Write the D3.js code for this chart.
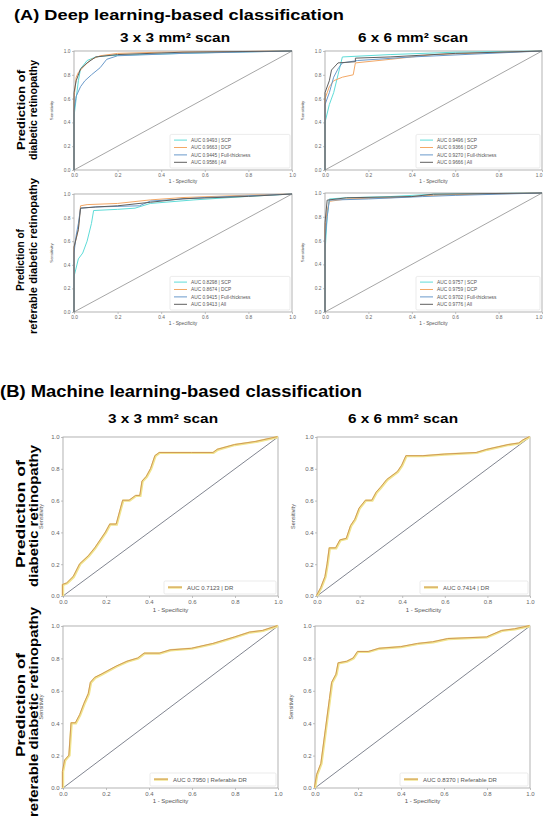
<!DOCTYPE html>
<html>
<head>
<meta charset="utf-8">
<script src="https://cdn.jsdelivr.net/npm/d3@7"></script>
<style>
  body { margin: 0; background: #fff; }
  svg { display: block; font-family: 'Liberation Sans', Arial, sans-serif; }
  .tick text { fill: #666; }
  .narrow { font-family: 'Liberation Sans Narrow', 'Liberation Sans', Arial, sans-serif; font-weight: bold; }
</style>
</head>
<body>
<script>
// ---- data ----
var ticks = [0, 0.2, 0.4, 0.6, 0.8, 1.0]
var dlLayers = ['SCP', 'DCP', 'Full-thickness', 'All']

// deep learning AUCs, order matches dlLayers
var auc33DR  = [0.9493, 0.9663, 0.9445, 0.9586]
var auc66DR  = [0.9496, 0.9366, 0.9270, 0.9666]
var auc33RDR = [0.8298, 0.8674, 0.9415, 0.9413]
var auc66RDR = [0.9757, 0.9759, 0.9702, 0.9776]

// ROC points [1 - specificity, sensitivity]
var roc33DR_SCP  = [[0,0],[0,0.45],[0.01,0.6],[0.02,0.75],[0.03,0.85],[0.06,0.92],[0.1,0.95],[0.15,0.96],[0.3,0.97],[0.5,0.98],[0.7,0.99],[1,1]]
var roc33DR_DCP  = [[0,0],[0,0.6],[0.01,0.78],[0.02,0.82],[0.05,0.88],[0.08,0.93],[0.12,0.96],[0.2,0.98],[0.4,0.99],[1,1]]
var roc33DR_Full = [[0,0],[0,0.5],[0.01,0.62],[0.03,0.7],[0.05,0.75],[0.08,0.8],[0.12,0.86],[0.15,0.93],[0.2,0.96],[0.5,0.98],[1,1]]
var roc33DR_All  = [[0,0],[0,0.65],[0.01,0.75],[0.03,0.85],[0.06,0.9],[0.1,0.95],[0.2,0.97],[0.5,0.99],[1,1]]

var roc66DR_SCP  = [[0,0],[0,0.4],[0.02,0.55],[0.04,0.65],[0.06,0.8],[0.08,0.95],[0.3,0.97],[0.6,0.99],[1,1]]
var roc66DR_DCP  = [[0,0],[0,0.6],[0.02,0.7],[0.04,0.75],[0.08,0.78],[0.13,0.8],[0.14,0.9],[0.3,0.93],[0.5,0.97],[1,1]]
var roc66DR_Full = [[0,0],[0,0.55],[0.02,0.65],[0.04,0.78],[0.06,0.85],[0.08,0.9],[0.15,0.92],[0.4,0.95],[1,1]]
var roc66DR_All  = [[0,0],[0,0.65],[0.02,0.75],[0.03,0.84],[0.06,0.9],[0.14,0.91],[0.14,0.94],[0.3,0.95],[0.6,0.98],[1,1]]

var roc33RDR_SCP  = [[0,0],[0,0.3],[0.02,0.45],[0.04,0.5],[0.06,0.6],[0.08,0.75],[0.09,0.86],[0.2,0.87],[0.28,0.88],[0.35,0.92],[0.55,0.95],[0.8,0.98],[1,1]]
var roc33RDR_DCP  = [[0,0],[0,0.55],[0.01,0.62],[0.02,0.7],[0.03,0.9],[0.06,0.91],[0.2,0.92],[0.35,0.95],[0.5,0.97],[0.8,0.99],[1,1]]
var roc33RDR_Full = [[0,0],[0,0.5],[0.01,0.65],[0.02,0.75],[0.03,0.88],[0.1,0.89],[0.3,0.9],[0.35,0.94],[0.6,0.97],[1,1]]
var roc33RDR_All  = [[0,0],[0,0.55],[0.02,0.7],[0.03,0.88],[0.1,0.89],[0.2,0.9],[0.35,0.93],[0.5,0.96],[0.8,0.98],[1,1]]

var roc66RDR_SCP  = [[0,0],[0,0.5],[0.01,0.8],[0.02,0.95],[0.1,0.96],[0.3,0.97],[0.5,0.99],[1,1]]
var roc66RDR_DCP  = [[0,0],[0,0.7],[0.01,0.85],[0.02,0.93],[0.1,0.95],[0.3,0.96],[0.5,0.98],[0.7,0.99],[1,1]]
var roc66RDR_Full = [[0,0],[0,0.6],[0.01,0.8],[0.02,0.94],[0.2,0.95],[0.45,0.97],[0.6,0.98],[1,1]]
var roc66RDR_All  = [[0,0],[0,0.75],[0.01,0.94],[0.1,0.96],[0.4,0.97],[0.5,0.99],[1,1]]

// machine learning
var mlLabels = ['DR', 'DR', 'Referable DR', 'Referable DR']
var mlAuc = [0.7123, 0.7414, 0.7950, 0.8370]
var ml33DR  = [[0,0],[0,0.07],[0.02,0.08],[0.05,0.12],[0.08,0.2],[0.12,0.25],[0.15,0.3],[0.2,0.4],[0.22,0.45],[0.25,0.45],[0.27,0.55],[0.28,0.6],[0.31,0.6],[0.34,0.63],[0.36,0.63],[0.37,0.72],[0.39,0.75],[0.41,0.8],[0.43,0.88],[0.45,0.9],[0.6,0.9],[0.7,0.9],[0.72,0.92],[0.8,0.95],[0.9,0.97],[1,1]]
var ml66DR  = [[0,0],[0.02,0.05],[0.04,0.12],[0.05,0.2],[0.06,0.3],[0.09,0.3],[0.11,0.35],[0.14,0.36],[0.16,0.44],[0.18,0.48],[0.2,0.55],[0.23,0.6],[0.26,0.6],[0.28,0.65],[0.3,0.68],[0.33,0.73],[0.38,0.78],[0.4,0.82],[0.42,0.88],[0.5,0.88],[0.6,0.89],[0.75,0.9],[0.8,0.92],[0.9,0.95],[0.95,0.96],[0.97,0.98],[1,1]]
var ml33RDR = [[0,0],[0,0.1],[0.01,0.17],[0.03,0.2],[0.04,0.4],[0.06,0.4],[0.08,0.45],[0.1,0.52],[0.12,0.58],[0.13,0.65],[0.15,0.68],[0.18,0.7],[0.25,0.75],[0.3,0.78],[0.35,0.8],[0.38,0.83],[0.45,0.83],[0.5,0.85],[0.6,0.86],[0.7,0.89],[0.8,0.93],[0.87,0.96],[0.93,0.97],[1,1]]
var ml66RDR = [[0,0],[0.01,0.08],[0.03,0.15],[0.05,0.35],[0.07,0.55],[0.08,0.65],[0.1,0.7],[0.11,0.77],[0.15,0.78],[0.18,0.8],[0.2,0.84],[0.25,0.84],[0.3,0.86],[0.4,0.87],[0.48,0.89],[0.55,0.9],[0.62,0.92],[0.8,0.93],[0.87,0.97],[0.93,0.98],[1,1]]

var dlColors = ['#5fdcd8', '#f3a866', '#6a9acb', '#5f5f5f']

// ---- drawing ----
var svg = d3.select('body').append('svg').attr('width', 543).attr('height', 817)

function addText(str, x, y, size, len, opts){
  opts = opts || {}
  var t = svg.append('text')
    .attr('transform', 'translate(' + x + ',' + y + ')' + (opts.rotate ? ' rotate(-90)' : ''))
    .attr('text-anchor', opts.anchor || 'middle')
    .style('font-size', size + 'px')
    .style('font-weight', 'bold')
    .text(str)
  if (opts.narrow) t.attr('class', 'narrow')
  if (len) t.attr('textLength', len).attr('lengthAdjust', 'spacingAndGlyphs')
  return t
}

function drawRoc(p){
  var x = d3.scaleLinear().domain([0, 1]).range([p.x0, p.x1])
  var y = d3.scaleLinear().domain([0, 1]).range([p.y1, p.y0])
  var g = svg.append('g')
  var fs = p.fs

  var xAxis = g.append('g').attr('transform', 'translate(0,' + p.y1 + ')')
    .call(d3.axisBottom(x).tickValues(ticks).tickFormat(d3.format('.1f')).tickSize(2).tickPadding(1.5))
  var yAxis = g.append('g').attr('transform', 'translate(' + p.x0 + ',0)')
    .call(d3.axisLeft(y).tickValues(ticks).tickFormat(d3.format('.1f')).tickSize(2).tickPadding(1.5))
  g.selectAll('.domain').remove()
  g.selectAll('.tick line').attr('stroke', '#999').attr('stroke-width', 0.6)
  g.selectAll('.tick text').style('font-size', fs + 'px').style('font-family', "'Liberation Sans', Arial, sans-serif")
  // keep the last x label inside the page when the plot touches the edge
  if (p.x1 > 535) xAxis.selectAll('.tick text').filter(d => d == 1).attr('text-anchor', 'end')

  g.append('rect')
    .attr('x', p.x0).attr('y', p.y0)
    .attr('width', p.x1 - p.x0).attr('height', p.y1 - p.y0)
    .attr('fill', 'none').attr('stroke', '#aaa').attr('stroke-width', 0.9)

  g.append('line')
    .attr('x1', x(0)).attr('y1', y(0)).attr('x2', x(1)).attr('y2', y(1))
    .attr('stroke', p.ml ? '#4a5060' : '#808080').attr('stroke-width', 0.7)

  var line = d3.line().x(d => x(d[0])).y(d => y(d[1]))

  p.series.forEach(s => {
    if (p.ml){
      g.append('path').attr('d', line(s.pts)).attr('fill', 'none')
        .attr('stroke', '#f1e48e').attr('stroke-width', 2.4)
      g.append('path').attr('d', line(s.pts)).attr('fill', 'none')
        .attr('transform', 'translate(-0.6,-0.4)')
        .attr('stroke', '#d09a58').attr('stroke-width', 1)
    } else {
      g.append('path').attr('d', line(s.pts)).attr('fill', 'none')
        .attr('stroke', s.color).attr('stroke-width', 1).attr('stroke-linejoin', 'round')
    }
  })

  // legend
  var rowH = p.ml ? 9 : 7.4
  var lh = p.series.length * rowH + 4
  var lx = p.x1 - p.legendW - 2
  var ly = p.y1 - lh - 2
  var lg = g.append('g').attr('transform', 'translate(' + lx + ',' + ly + ')')
  lg.append('rect').attr('width', p.legendW).attr('height', lh).attr('rx', 1.5)
    .attr('fill', '#fff').attr('stroke', '#ddd').attr('stroke-width', 0.6)
  p.series.forEach((s, i) => {
    var ry = 2 + rowH * (i + 0.5)
    if (p.ml){
      lg.append('line').attr('x1', 4).attr('x2', 18).attr('y1', ry).attr('y2', ry)
        .attr('stroke', '#f1e48e').attr('stroke-width', 2.4)
      lg.append('line').attr('x1', 4).attr('x2', 18).attr('y1', ry - 0.4).attr('y2', ry - 0.4)
        .attr('stroke', '#d09a58').attr('stroke-width', 1)
    } else {
      lg.append('line').attr('x1', 4).attr('x2', 17).attr('y1', ry).attr('y2', ry)
        .attr('stroke', s.color).attr('stroke-width', 1)
    }
    lg.append('text').attr('x', p.ml ? 23 : 21).attr('y', ry).attr('dy', '0.35em')
      .style('font-size', fs + 'px').attr('fill', '#555')
      .text(s.label)
  })

  // axis labels
  g.append('text').attr('x', (p.x0 + p.x1) / 2).attr('y', p.y1 + p.xlOff)
    .attr('text-anchor', 'middle').style('font-size', fs + 'px').attr('fill', '#555')
    .text('1 - Specificity')
  g.append('text')
    .attr('transform', 'translate(' + p.ylX + ',' + (p.y0 + p.y1) / 2 + ') rotate(-90)')
    .attr('text-anchor', 'middle').style('font-size', (fs - 0.5) + 'px').attr('fill', '#555')
    .text('Sensitivity')
}

function dlSeries(curves, aucs){
  return curves.map((pts, i) => ({
    pts,
    color: dlColors[i],
    label: 'AUC ' + aucs[i].toFixed(4) + ' | ' + dlLayers[i]
  }))
}

// titles
addText('(A) Deep learning-based classification', 14, 20, 14, 330, {anchor: 'start'})
addText('3 x 3 mm\u00b2 scan', 175, 42, 12, 110)
addText('6 x 6 mm\u00b2 scan', 413, 42, 12, 110)
addText('(B) Machine learning-based classification', 0, 397, 16, 362, {anchor: 'start'})
addText('3 x 3 mm\u00b2 scan', 163, 423, 13, 110)
addText('6 x 6 mm\u00b2 scan', 403, 423, 13, 110)

// row labels
addText('Prediction of', 25, 110, 11.5, 80, {rotate: 1, narrow: 1})
addText('diabetic retinopathy', 37, 110, 11.5, 100, {rotate: 1, narrow: 1})
addText('Prediction of', 24, 260, 11, 62, {rotate: 1, narrow: 1})
addText('referable diabetic retinopathy', 37, 256, 11, 156, {rotate: 1, narrow: 1})
addText('Prediction of', 25, 514, 13.5, 108, {rotate: 1, narrow: 1})
addText('diabetic retinopathy', 38, 516, 13.5, 142, {rotate: 1, narrow: 1})
addText('Prediction of', 25, 705, 13.5, 104, {rotate: 1, narrow: 1})
addText('referable diabetic retinopathy', 38, 712, 13.5, 210, {rotate: 1, narrow: 1})

// (A) deep learning panels
drawRoc({x0: 74, x1: 292, y0: 51, y1: 170, fs: 4.8, legendW: 120, xlOff: 13, ylX: 53,
  series: dlSeries([roc33DR_SCP, roc33DR_DCP, roc33DR_Full, roc33DR_All], auc33DR)})
drawRoc({x0: 325, x1: 542, y0: 51, y1: 170, fs: 4.8, legendW: 124, xlOff: 13, ylX: 304,
  series: dlSeries([roc66DR_SCP, roc66DR_DCP, roc66DR_Full, roc66DR_All], auc66DR)})
drawRoc({x0: 74, x1: 292, y0: 194, y1: 312, fs: 4.8, legendW: 120, xlOff: 13, ylX: 53,
  series: dlSeries([roc33RDR_SCP, roc33RDR_DCP, roc33RDR_Full, roc33RDR_All], auc33RDR)})
drawRoc({x0: 325, x1: 542, y0: 193, y1: 312, fs: 4.8, legendW: 124, xlOff: 13, ylX: 304,
  series: dlSeries([roc66RDR_SCP, roc66RDR_DCP, roc66RDR_Full, roc66RDR_All], auc66RDR)})

// (B) machine learning panels
var mlCurves = [ml33DR, ml66DR, ml33RDR, ml66RDR]
var mlSeries = mlCurves.map((pts, i) => [{pts, label: 'AUC ' + mlAuc[i].toFixed(4) + ' | ' + mlLabels[i]}])
drawRoc({x0: 63, x1: 278, y0: 437, y1: 596, fs: 6, legendW: 112, xlOff: 16, ylX: 43, ml: 1, series: mlSeries[0]})
drawRoc({x0: 317, x1: 530, y0: 437, y1: 596, fs: 6, legendW: 108, xlOff: 16, ylX: 295, ml: 1, series: mlSeries[1]})
drawRoc({x0: 63, x1: 278, y0: 626, y1: 788, fs: 6, legendW: 126, xlOff: 15, ylX: 43, ml: 1, series: mlSeries[2]})
drawRoc({x0: 315, x1: 530, y0: 626, y1: 788, fs: 6, legendW: 128, xlOff: 15, ylX: 293, ml: 1, series: mlSeries[3]})
</script>
</body>
</html>
